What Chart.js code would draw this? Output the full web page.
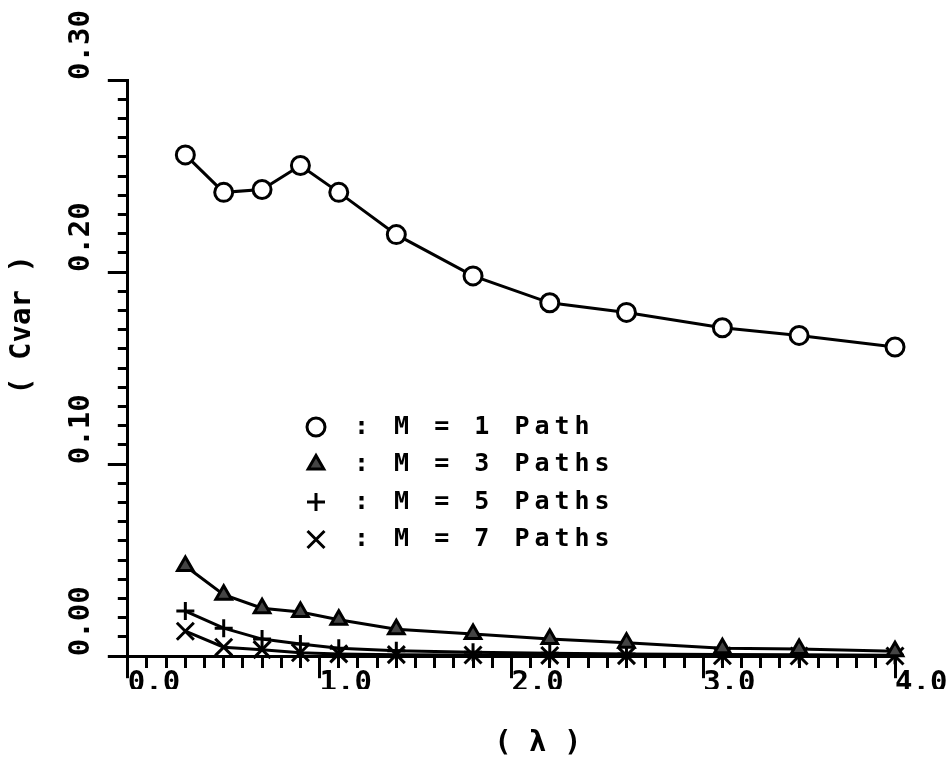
<!DOCTYPE html>
<html>
<head>
<meta charset="utf-8">
<script src="https://cdn.jsdelivr.net/npm/chart.js"></script>
<style>
  body { margin: 0; background: #fff; }
  #wrap { width: 951px; height: 759px; }
</style>
</head>
<body>
<div id="wrap"><canvas id="cvarChart" width="951" height="759"></canvas></div>
<script>
// lambda values along the x axis
const lambda = [0.3, 0.5, 0.7, 0.9, 1.1, 1.4, 1.8, 2.2, 2.6, 3.1, 3.5, 4.0];

// Cvar for each number of paths M
const cvarM1 = [0.261, 0.2415, 0.243, 0.2555, 0.2415, 0.2195, 0.198, 0.184, 0.179, 0.171, 0.167, 0.161];
const cvarM3 = [0.047, 0.032, 0.025, 0.023, 0.019, 0.014, 0.0115, 0.009, 0.007, 0.0042, 0.0037, 0.0026];
const cvarM5 = [0.0235, 0.0146, 0.0089, 0.0063, 0.0042, 0.0028, 0.0021, 0.0016, 0.0012, 0.0009, 0.0007, 0.0005];
const cvarM7 = [0.013, 0.0047, 0.0034, 0.0018, 0.0012, 0.0008, 0.0006, 0.0004, 0.0003, 0.0002, 0.0001, 0.0001];

const seriesLabels = ["M = 1 Path", "M = 3 Paths", "M = 5 Paths", "M = 7 Paths"];
const xTickLabels = ["0.0", "1.0", "2.0", "3.0", "4.0"];
const yTickLabels = ["0.00", "0.10", "0.20", "0.30"];
const xTitle = "( \u03bb )";
const yTitle = "( Cvar )";

const monoFont = '"DejaVu Sans Mono", "Liberation Mono", monospace';

function points(ys) {
    return ys.map(function (y, i) { return { x: lambda[i], y: y }; });
}

function findLabel(list, v, digits) {
    const s = v.toFixed(digits);
    return list.indexOf(s) >= 0 && Math.abs(parseFloat(s) - v) < 1e-9 ? s : "";
}

function isMajorX(v) { return findLabel(xTickLabels, v, 1) !== ""; }
function isMajorY(v) { return findLabel(yTickLabels, v, 2) !== ""; }

// legend and axis titles drawn inside / around the plot
const annotations = {
    id: "annotations",
    afterDraw(chart) {
        const ctx = chart.ctx;
        const area = chart.chartArea;

        ctx.save();
        ctx.fillStyle = "#000";
        ctx.font = "bold 29px " + monoFont;
        ctx.textAlign = "center";
        ctx.textBaseline = "middle";
        ctx.fillText(xTitle, area.left + 410, 743);
        ctx.translate(22, 325);
        ctx.rotate(-Math.PI / 2);
        ctx.fillText(yTitle, 0, 0);
        ctx.restore();

        const symX = 316;
        const textX = 354;
        chart.data.datasets.forEach(function (ds, i) {
            const y = 427 + i * 37.5;
            ctx.save();
            ctx.strokeStyle = "#000";
            ctx.fillStyle = ds.pointBackgroundColor;
            ctx.lineWidth = 3;
            Chart.helpers.drawPoint(ctx, {
                pointStyle: ds.pointStyle,
                radius: ds.pointRadius,
                rotation: 0,
                borderWidth: 3
            }, symX, y);
            ctx.fillStyle = "#000";
            ctx.font = "bold 25px " + monoFont;
            ctx.letterSpacing = "5px";
            ctx.textAlign = "left";
            ctx.textBaseline = "middle";
            ctx.fillText(": " + ds.label, textX, y);
            ctx.restore();
        });
    }
};

function series(label, ys, style, radius, fill) {
    return {
        label: label,
        data: points(ys),
        clip: false,
        borderColor: "#000",
        borderWidth: 3,
        tension: 0,
        pointStyle: style,
        pointRadius: radius,
        pointBackgroundColor: fill,
        pointBorderColor: "#000",
        pointBorderWidth: 3
    };
}

new Chart(document.getElementById("cvarChart"), {
    type: "line",
    data: {
        datasets: [
            series(seriesLabels[0], cvarM1, "circle", 9, "#fff"),
            series(seriesLabels[1], cvarM3, "triangle", 9, "#444"),
            series(seriesLabels[2], cvarM5, "cross", 9, "#000"),
            series(seriesLabels[3], cvarM7, "crossRot", 12, "#000")
        ]
    },
    options: {
        responsive: false,
        animation: false,
        layout: { padding: { left: 67, right: 56, top: 80, bottom: 70 } },
        plugins: {
            legend: { display: false },
            tooltip: { enabled: false }
        },
        scales: {
            x: {
                type: "linear",
                min: 0,
                max: 4,
                border: { display: true, color: "#000", width: 3 },
                grid: {
                    drawOnChartArea: false,
                    tickLength: 22,
                    tickWidth: 3,
                    tickColor: "#000",
                    tickBorderDash: function (c) {
                        return c.tick && !isMajorX(c.tick.value) ? [10, 40] : [];
                    }
                },
                ticks: {
                    stepSize: 0.1,
                    autoSkip: false,
                    maxRotation: 0,
                    align: "start",
                    padding: -12,
                    color: "#000",
                    font: { family: monoFont, size: 29, weight: "bold" },
                    callback: function (v) { return findLabel(xTickLabels, v, 1); }
                }
            },
            y: {
                type: "linear",
                min: 0,
                max: 0.3,
                border: { display: true, color: "#000", width: 3 },
                grid: {
                    drawOnChartArea: false,
                    tickLength: 20,
                    tickWidth: 3,
                    tickColor: "#000",
                    tickBorderDash: function (c) {
                        return c.tick && !isMajorY(c.tick.value) ? [0, 10, 20] : [];
                    }
                },
                ticks: {
                    stepSize: 0.01,
                    autoSkip: false,
                    minRotation: 90,
                    maxRotation: 90,
                    crossAlign: "far",
                    align: "start",
                    padding: 3,
                    color: "#000",
                    font: { family: monoFont, size: 29, weight: "bold" },
                    callback: function (v) { return findLabel(yTickLabels, v, 2); }
                }
            }
        }
    },
    plugins: [annotations]
});
</script>
</body>
</html>
